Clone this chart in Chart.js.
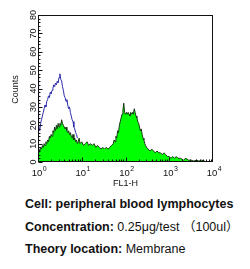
<!DOCTYPE html>
<html><head><meta charset="utf-8">
<script src="https://cdn.jsdelivr.net/npm/chart.js@4/dist/chart.umd.min.js"></script>
<style>
html,body{margin:0;padding:0;background:#fff;width:250px;height:269px;overflow:hidden;}
#wrap{position:absolute;left:0;top:0;width:250px;height:190px;}
.t{position:absolute;left:25px;font-family:"Liberation Sans",Arial,"Noto Sans CJK SC",sans-serif;font-size:12.5px;line-height:15px;color:#111;white-space:nowrap;}
.t b{font-weight:bold;}
</style></head><body>
<div id="wrap"><canvas id="c" width="250" height="190"></canvas></div>
<div class="t" style="top:197px"><b>Cell: peripheral blood lymphocytes</b></div>
<div class="t" style="top:220px"><b>Concentration:</b> 0.25μg/test （100ul）</div>
<div class="t" style="top:242px"><b>Theory location:</b> Membrane</div>
<script>
// x values are log10(FL1-H) decades
const xTickValues = [0,1,2,3,4];
const xTickBase = '10';
const xTickExponents = ['0','1','2','3','4'];
const yTicks = [0,10,20,30,40,50,60,70,80];
const xTitle = 'FL1-H';
const yTitle = 'Counts';

const greenX = [0.00,0.02,0.04,0.06,0.08,0.10,0.12,0.14,0.16,0.18,0.20,0.22,0.24,0.26,0.28,0.30,0.32,0.34,0.36,0.38,0.40,0.42,0.44,0.46,0.48,0.50,0.52,0.54,0.56,0.58,0.60,0.62,0.64,0.66,0.68,0.70,0.72,0.74,0.76,0.78,0.80,0.82,0.84,0.86,0.88,0.90,0.92,0.94,0.96,1.00,1.04,1.08,1.12,1.16,1.20,1.24,1.28,1.32,1.36,1.40,1.44,1.48,1.52,1.56,1.60,1.64,1.68,1.72,1.74,1.76,1.78,1.80,1.82,1.84,1.86,1.88,1.90,1.92,1.94,1.96,1.98,2.00,2.02,2.04,2.06,2.08,2.10,2.12,2.14,2.16,2.18,2.20,2.22,2.24,2.26,2.28,2.30,2.32,2.34,2.36,2.38,2.40,2.42,2.44,2.46,2.48,2.52,2.56,2.60,2.64,2.68,2.72,2.76,2.80,2.84,2.88,2.92,2.96,3.00,3.04,3.08,3.12,3.16,3.20,3.26,3.32,3.38,3.44,3.50,3.56,3.62,3.68,3.74,3.80,3.86,3.92,4.00];
const greenY = [5,7,6,8,7,9,8,10,9,11,10,12,11,14,13,15,14,17,16,19,17,20,18,21,19,21,20,23,21,20,19,18,19,17,16,17,15,16,14,13,15,12,13,11,12,10,11,13,10,11,9,10,11,9,10,9,10,8,9,8,7,8,7,8,7,8,9,10,12,11,14,13,17,16,20,22,24,26,28,32,27,26,27,26,27,26,25,27,26,27,26,29,27,25,24,22,21,19,17,18,15,13,12,10,9,8,7,6,7,6,5,6,5,5,4,5,4,3,3,2,3,2,3,2,2,1,2,1,1,0.5,1,0.5,1,0.5,0,0,0];

const blueX = [0.00,0.005,0.02,0.04,0.06,0.08,0.10,0.12,0.14,0.16,0.18,0.20,0.22,0.24,0.26,0.28,0.30,0.32,0.34,0.36,0.38,0.40,0.42,0.44,0.46,0.48,0.50,0.52,0.54,0.56,0.58,0.60,0.62,0.64,0.66,0.68,0.70,0.72,0.74,0.76,0.78,0.80,0.82,0.84,0.86,0.88,0.90];
const blueY = [0,48,20,17,21,23,25,27,29,31,30,33,34,36,35,38,37,39,40,42,41,43,42,44,43,46,48,45,44,41,39,36,35,33,34,31,29,30,27,25,23,22,19,18,16,15,13];

const FONT = '"Liberation Sans", Arial, sans-serif';

const frameTicks = {
  id: 'frameTicks',
  afterDatasetsDraw(chart) {
    const {ctx, chartArea: a, scales: {x, y}} = chart;
    ctx.save();
    ctx.strokeStyle = '#111';
    ctx.lineWidth = 1;
    const L = Math.round(a.left) + 0.5, R = Math.round(a.right) - 0.5;
    const T = Math.round(a.top) + 0.5, B = Math.round(a.bottom) - 0.5;
    ctx.strokeRect(L, T, R - L, B - T);
    ctx.beginPath();
    for (let v = 0; v <= 80; v += 2) {
      const py = Math.round(y.getPixelForValue(v)) + 0.5;
      const len = (v % 10 === 0) ? 4 : 2;
      ctx.moveTo(L, py); ctx.lineTo(L + len, py);
    }
    for (let d = 0; d < 4; d++) {
      for (let k = 1; k <= 9; k++) {
        const px = Math.round(x.getPixelForValue(d + Math.log10(k))) + 0.5;
        const len = k === 1 ? 4 : 2;
        ctx.moveTo(px, B); ctx.lineTo(px, B - len);
      }
    }
    const p4 = Math.round(x.getPixelForValue(4)) - 0.5;
    ctx.moveTo(p4, B); ctx.lineTo(p4, B - 4);
    ctx.stroke();
    ctx.restore();
  },
  afterDraw(chart) {
    const {ctx, chartArea: a, scales: {x, y}} = chart;
    ctx.save();
    ctx.fillStyle = '#111';
    // x tick labels: base with raised exponent
    const baseFont = '9.5px ' + FONT, expFont = '7px ' + FONT;
    xTickValues.forEach((v, i) => {
      ctx.font = baseFont;
      const wb = ctx.measureText(xTickBase).width;
      ctx.font = expFont;
      const we = ctx.measureText(xTickExponents[i]).width;
      const cx = x.getPixelForValue(v) + 1;
      const left = cx - (wb + we) / 2;
      ctx.textAlign = 'left';
      ctx.textBaseline = 'middle';
      ctx.font = baseFont;
      ctx.fillText(xTickBase, left, 173.5);
      ctx.font = expFont;
      ctx.fillText(xTickExponents[i], left + wb + 0.5, 169);
    });
    // x title
    ctx.font = '9px ' + FONT;
    ctx.textAlign = 'center';
    ctx.textBaseline = 'middle';
    ctx.fillText(xTitle, (a.left + a.right) / 2, 183.5);
    // y tick labels rotated
    ctx.font = '9px ' + FONT;
    yTicks.forEach(v => {
      const py = y.getPixelForValue(v);
      ctx.save();
      ctx.translate(34, py);
      ctx.rotate(-Math.PI / 2);
      ctx.textAlign = 'center';
      ctx.textBaseline = 'middle';
      ctx.fillText(String(v), 0, 0);
      ctx.restore();
    });
    // y title
    ctx.save();
    ctx.translate(16, (a.top + a.bottom) / 2 + 1);
    ctx.rotate(-Math.PI / 2);
    ctx.textAlign = 'center';
    ctx.textBaseline = 'middle';
    ctx.fillText(yTitle, 0, 0);
    ctx.restore();
    ctx.restore();
  }
};

new Chart(document.getElementById('c'), {
  type: 'line',
  data: {
    datasets: [
      {
        label: 'Isotype',
        data: blueX.map((v, i) => ({x: v, y: blueY[i]})),
        borderColor: '#2b2ba8',
        borderWidth: 1,
        fill: false,
        pointRadius: 0,
        tension: 0
      },
      {
        label: 'Sample',
        data: greenX.map((v, i) => ({x: v, y: greenY[i]})),
        borderColor: '#173817',
        backgroundColor: '#00ff00',
        borderWidth: 1,
        fill: 'origin',
        pointRadius: 0,
        tension: 0
      }
    ]
  },
  options: {
    responsive: false,
    animation: false,
    devicePixelRatio: 1,
    layout: {padding: {left: 0, right: 37, top: 15, bottom: 0}},
    plugins: {legend: {display: false}, tooltip: {enabled: false}},
    scales: {
      x: {
        type: 'linear', min: 0, max: 4,
        grid: {display: false, drawTicks: false},
        border: {display: false},
        ticks: {display: false, stepSize: 1},
        afterFit(s) { s.height = 28; }
      },
      y: {
        type: 'linear', min: 0, max: 80,
        grid: {display: false, drawTicks: false},
        border: {display: false},
        ticks: {display: false, stepSize: 10},
        afterFit(s) { s.width = 38; }
      }
    }
  },
  plugins: [frameTicks]
});
</script>
</body></html>
